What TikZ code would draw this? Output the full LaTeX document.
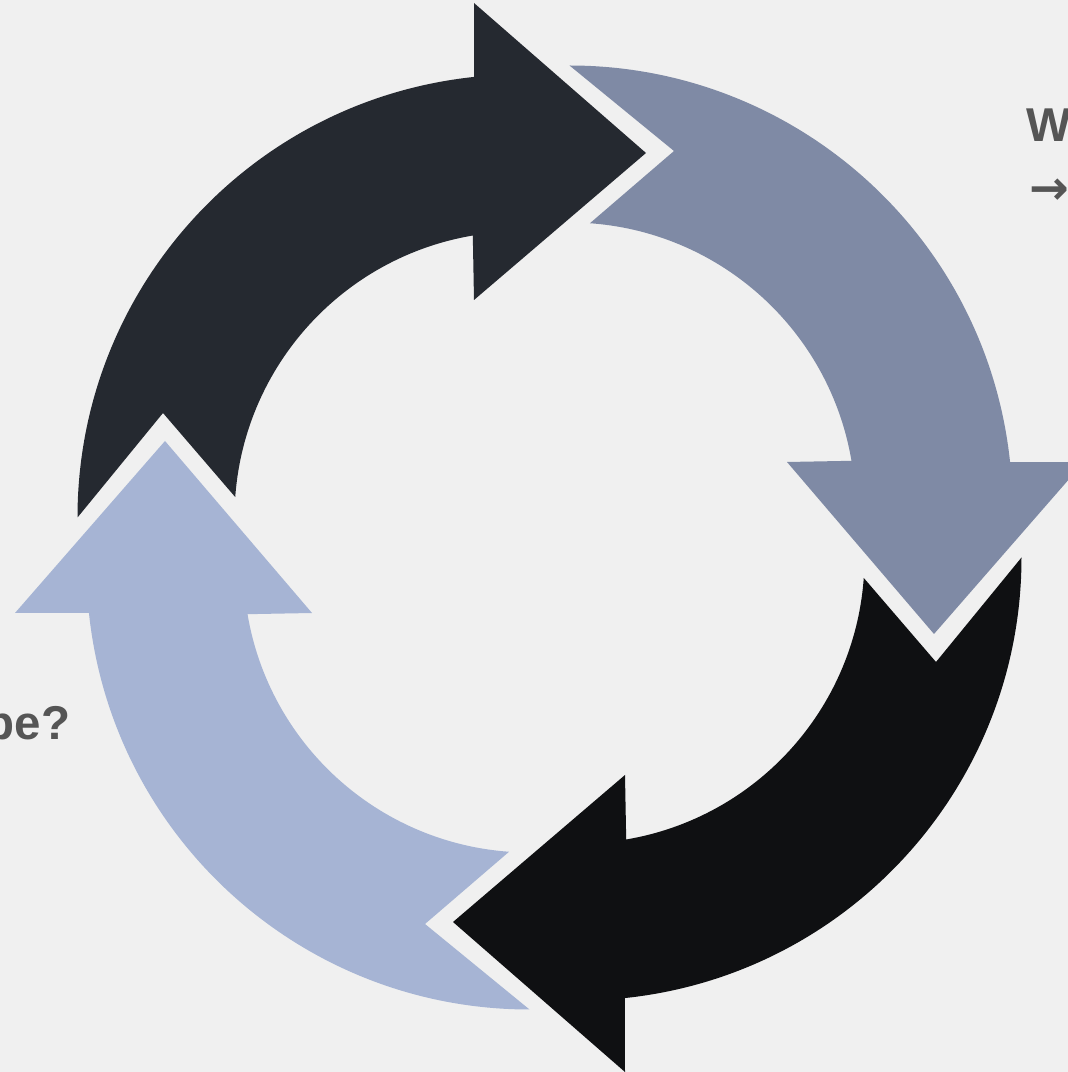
\documentclass[tikz,border=0pt]{standalone}
\usepackage{fontspec}
\setmainfont{Liberation Sans}
\newfontfamily\symfont{DejaVu Sans}
\usepackage{tikz}
\definecolor{CanvasGray}{HTML}{F0F0F0}
\definecolor{NoteGray}{HTML}{555555}
\definecolor{ArrowSlate}{HTML}{252930}
\definecolor{ArrowSteel}{HTML}{7F8AA5}
\definecolor{ArrowInk}{HTML}{0F1012}
\definecolor{ArrowSky}{HTML}{A6B4D4}

\begin{document}
\begin{tikzpicture}[x=0.01cm, y=0.01cm,
  note/.style={font=\bfseries\fontsize{13.5}{16}\selectfont, text=NoteGray, inner sep=0pt}]
  \useasboundingbox (0,0) rectangle (1068,1072);
  \fill[CanvasGray] (0,0) rectangle (1068,1072);
  \clip (0,0) rectangle (1068,1072);

  % one curved arrow, turned four times round the centre
  \foreach \ang/\col in {0/ArrowSlate, -90/ArrowSteel, 180/ArrowInk, 90/ArrowSky} {
    \fill[\col, shift={(549.5,534.5)}, rotate=\ang]
      ([shift={(-29,20)}]180:443) arc[start angle=180, end angle=96, radius=443]
      -- (-75.5,534.5) -- (96.5,384.5) -- (-75.5,237.5)
      -- ([shift={(-29,20)}]99.6:286) arc[start angle=99.6, end angle=175.9, radius=286]
      -- (-386.5,124.5) -- cycle;
  }

  \node[note, anchor=base west] (noteW) at (1026,930) {W};
  \node[note, font=\symfont\bfseries\fontsize{13.5}{16}\selectfont, anchor=west] (noteArrow) at (1029,880) {→};
  \node[note, anchor=base east] (noteQ) at (71,332) {pe?};
\end{tikzpicture}
\end{document}
